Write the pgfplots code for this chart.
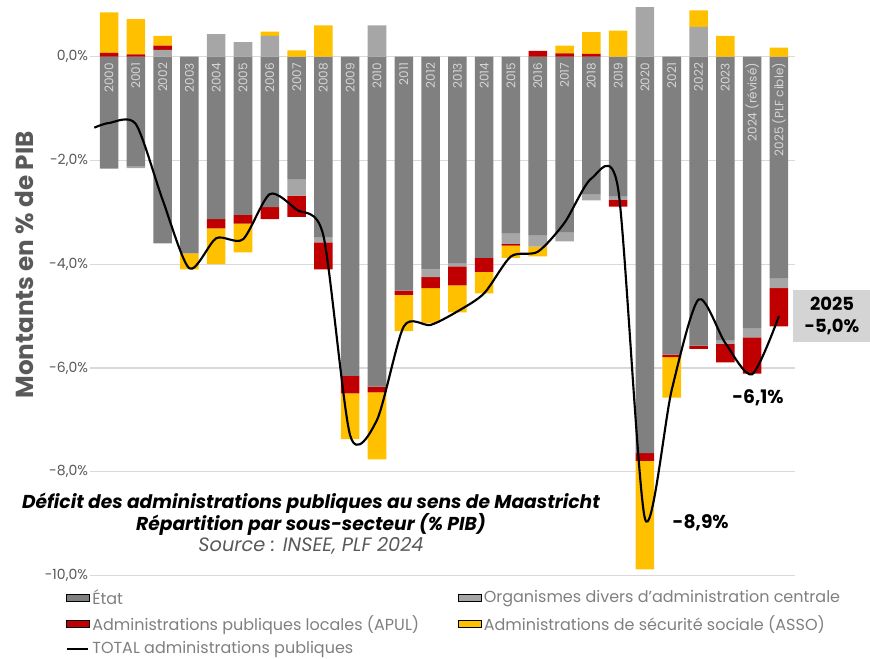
\documentclass[border=0pt]{standalone}
\usepackage{fontspec}
\setmainfont{Poppins}
\usepackage{pgfplots}
\usepackage{pgfplotstable}
\pgfplotsset{compat=1.18}

\definecolor{etat}{HTML}{808080}
\definecolor{odac}{HTML}{A6A6A6}
\definecolor{apul}{HTML}{C00000}
\definecolor{asso}{HTML}{FFC000}
\definecolor{txtgray}{HTML}{595959}
\definecolor{leggray}{HTML}{7F7F7F}
\definecolor{gridgray}{HTML}{D9D9D9}
\definecolor{boxgray}{HTML}{D4D4D4}
\definecolor{yeargray}{HTML}{D6D6D6}

% bar parts, % of GDP (negative and positive parts kept apart)
\pgfplotstableread{
x  etat   odacn  apuln  asson  odacp apulp assop
0  -2.16   0      0      0      0     0.07  0.78
1  -2.12  -0.03   0      0      0     0.04  0.68
2  -3.60   0      0      0      0.13  0.08  0.19
3  -3.79   0      0     -0.31   0     0     0
4  -3.13   0     -0.18  -0.69   0.43  0     0
5  -3.05   0     -0.17  -0.55   0.28  0     0
6  -2.90   0     -0.23   0      0.40  0     0.08
7  -2.36  -0.32  -0.41   0      0     0     0.12
8  -3.48  -0.10  -0.52   0      0     0     0.60
9  -6.15   0     -0.34  -0.88   0     0     0
10 -6.36   0     -0.11  -1.29   0.60  0     0
11 -4.51   0     -0.08  -0.70   0     0     0
12 -4.10  -0.15  -0.21  -0.67   0     0     0
13 -3.99  -0.05  -0.37  -0.52   0     0     0
14 -3.88   0     -0.27  -0.41   0     0     0
15 -3.40  -0.21  -0.03  -0.24   0     0     0
16 -3.45  -0.21   0     -0.19   0     0.11  0
17 -3.39  -0.17   0      0      0     0.06  0.15
18 -2.65  -0.12   0      0      0     0.05  0.42
19 -2.70  -0.06  -0.13   0      0     0     0.50
20 -7.64   0     -0.15  -2.09   0.95  0     0
21 -5.74   0     -0.05  -0.78   0     0     0
22 -5.57   0     -0.06   0      0.57  0     0.32
23 -5.47  -0.06  -0.36   0      0     0     0.40
24 -5.23  -0.18  -0.70   0      0     0     0
25 -4.28  -0.18  -0.74   0      0     0     0.17
}\bars

% total (smoothed line as drawn)
\pgfplotstableread{
x     y
-0.55 -1.37
0     -1.28
1     -1.30
2     -2.76
3     -4.08
4     -3.50
5     -3.52
6     -2.65
7     -2.95
8     -3.45
9     -7.30
10    -7.00
11    -5.20
12    -5.17
13    -4.91
14    -4.56
15    -3.85
16    -3.76
17    -3.20
18    -2.35
19    -2.55
20    -8.90
21    -6.42
22    -4.68
23    -5.52
24    -6.12
25    -5.00
}\total

\pgfplotsset{
  base/.style={
    scale only axis, width=528.75pt, height=428.25pt,
    at={(67.5pt,62.5pt)}, anchor=south west,
    xmin=-0.71, xmax=25.6, ymin=-10, ymax=1,
  },
}

\begin{document}
\begin{tikzpicture}

\begin{axis}[base,
  ybar stacked, bar width=13.9pt,
  axis line style={draw=none}, major tick length=0pt,
  ymajorgrids, major grid style={gridgray, line width=0.8pt},
  ytick={-10,-8,...,0}, ytick pos=left, xtick=\empty,
  /pgf/number format/assume math mode=true,
  yticklabel={\pgfmathprintnumber[fixed,fixed zerofill,precision=1,use comma]{\tick}\%},
  yticklabel style={font=\fontsize{10.5}{11}\selectfont, text=txtgray, xshift=2pt},
  legend columns=2,
  legend cell align=left,
  legend style={draw=none, fill=none, inner sep=0pt,
    at={(-0.035,-0.019)}, anchor=north west,
    font=\fontsize{12}{13}\selectfont, text=leggray,
    /tikz/every even column/.append style={column sep=27pt},
    row sep=2.9pt},
]
\addplot[fill=etat, draw=none, area legend] table[x=x,y=etat]{\bars};
\addlegendentry{État}
\addplot[fill=odac, draw=none, area legend] table[x=x,y=odacn]{\bars};
\addlegendentry{Organismes divers d'administration centrale}
\addplot[fill=apul, draw=none, area legend] table[x=x,y=apuln]{\bars};
\addlegendentry{Administrations publiques locales (APUL)}
\addplot[fill=asso, draw=none, area legend] table[x=x,y=asson]{\bars};
\addlegendentry{Administrations de sécurité sociale (ASSO)}
\addlegendimage{legend image code/.code={\draw[black, line width=1.6pt] (0pt,0pt) -- (16pt,0pt);}}
\addlegendentry{TOTAL administrations publiques}
\end{axis}

\begin{axis}[base, hide axis, ybar stacked, bar width=13.9pt]
\addplot[fill=odac, draw=none] table[x=x,y=odacp]{\bars};
\addplot[fill=apul, draw=none] table[x=x,y=apulp]{\bars};
\addplot[fill=asso, draw=none] table[x=x,y=assop]{\bars};
\end{axis}

\begin{axis}[base, hide axis, clip=false]
\pgfplotsinvokeforeach{0,...,23}{
  \node[rotate=90, anchor=east, inner sep=0pt, text=yeargray, font=\fontsize{9}{10}\selectfont]
    at (axis cs:#1,-0.12) {\pgfmathparse{int(2000+#1)}\pgfmathresult};
}
\node[rotate=90, anchor=east, inner sep=0pt, text=yeargray, font=\fontsize{9}{10}\selectfont]
  at (axis cs:24,-0.12) {2024 (révisé)};
\node[rotate=90, anchor=east, inner sep=0pt, text=yeargray, font=\fontsize{9}{10}\selectfont]
  at (axis cs:25,-0.12) {2025 (PLF cible)};
\addplot[black, line width=1.6pt, smooth, tension=0.45, mark=none] table[x=x,y=y]{\total};
\end{axis}

\begin{scope}[x=0.75pt, y=0.75pt]
\node[rotate=90, font=\fontsize{18.5}{20}\selectfont\bfseries, text=txtgray] at (25,{659-265}) {Montants en \% de PIB};
\node[font=\fontsize{14}{15}\selectfont\bfseries\itshape] at (311,{659-503}) {Déficit des administrations publiques au sens de Maastricht};
\node[font=\fontsize{14}{15}\selectfont\bfseries\itshape] at (311,{659-524}) {Répartition par sous-secteur (\% PIB)};
\node[font=\fontsize{14.5}{15}\selectfont\itshape, text=txtgray] at (311,{659-546}) {Source : INSEE, PLF 2024};
\node[font=\fontsize{14}{15}\selectfont\bfseries, anchor=west] at (668,{659-523}) {-8,9\%};
\node[font=\fontsize{14}{15}\selectfont\bfseries] at (758,{659-398}) {-6,1\%};
\node[fill=boxgray, minimum width=58pt, minimum height=39pt, align=center,
  font=\fontsize{13.5}{16}\selectfont\bfseries] at (832,{659-316}) {2025\\-5,0\%};
\end{scope}

\pgfresetboundingbox
\path[use as bounding box] (0,0) rectangle (652.5pt,494.25pt);
\end{tikzpicture}
\end{document}
